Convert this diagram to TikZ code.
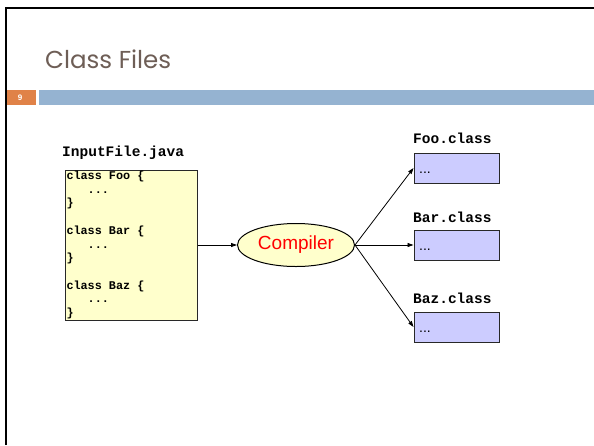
\documentclass[tikz,border=0pt]{standalone}
\usepackage{fontspec}
\setmainfont{Liberation Sans}
\newfontfamily\codefont{Liberation Mono}
\newfontfamily\titlefont{Poppins}
\usetikzlibrary{shapes.geometric,arrows.meta}

\definecolor{titlegray}{RGB}{110,94,86}
\definecolor{slideorange}{RGB}{224,130,72}
\definecolor{slideblue}{RGB}{149,179,209}
\definecolor{srcyellow}{RGB}{255,255,204}
\definecolor{outlilac}{RGB}{204,204,255}
\definecolor{boxline}{RGB}{40,40,40}

% one monospace character cell of blank space
\newcommand\mcell{\phantom{x}}

\tikzset{
  srcbox/.style={draw=boxline, line width=1pt, fill=srcyellow, minimum width=132pt,
    minimum height=150pt, inner xsep=1.5pt, inner ysep=0pt, text width=129pt, align=left,
    font=\codefont\bfseries\fontsize{11.8}{13.7}\selectfont},
  compiler/.style={ellipse, draw=black, line width=1pt, fill=srcyellow, minimum width=117pt,
    minimum height=43pt, inner sep=0pt, text=red, font=\fontsize{19}{22}\selectfont},
  outbox/.style={draw=boxline, line width=1pt, fill=outlilac, minimum width=85pt,
    minimum height=30pt, inner sep=0pt},
  filelabel/.style={anchor=west, inner sep=0pt, font=\codefont\bfseries\fontsize{14.5}{16}\selectfont},
  dots/.style={anchor=base west, inner sep=0pt, font=\fontsize{14}{16}\selectfont},
  flow/.style={line width=0.8pt, -{Triangle[length=6pt,width=4pt]}},
}

\begin{document}
\begin{tikzpicture}[x=1pt,y=-1pt]
\useasboundingbox (0,0) rectangle (594,445);
\fill[white] (0,0) rectangle (594,445);

% slide frame
\draw[line width=2pt, black] (6,445) -- (6,8) -- (594,8);

% title and header bar
\node[anchor=base west, inner sep=0pt, text=titlegray, font=\titlefont\fontsize{24.5}{28}\selectfont]
  (title) at (45,68) {Class Files};
\fill[slideorange] (7,90) rectangle (36,105);
\fill[slideblue] (39,90) rectangle (594,105);
\node[text=white, inner sep=0pt, font=\bfseries\fontsize{8}{9}\selectfont] (pagenum) at (20,97.5) {9};

% source file
\node[filelabel] (srclabel) at (62,153) {InputFile.java};
\node[srcbox] (src) at (131,245) {class\mcell Foo\mcell\{\\
\mcell\mcell\mcell...\\
\}\\
\mbox{}\\
class\mcell Bar\mcell\{\\
\mcell\mcell\mcell...\\
\}\\
\mbox{}\\
class\mcell Baz\mcell\{\\
\mcell\mcell\mcell...\\
\}};

% compiler
\node[compiler] (comp) at (296,245) {Compiler};

% class files
\node[outbox] (foo) at (456.5,168) {};
\node[outbox] (bar) at (456.5,245) {};
\node[outbox] (baz) at (456.5,327) {};
\node[filelabel] (foolabel) at (413,138) {Foo.class};
\node[filelabel] (barlabel) at (413,217) {Bar.class};
\node[filelabel] (bazlabel) at (413,298) {Baz.class};
\node[dots] (foodots) at (419,173) {...};
\node[dots] (bardots) at (419,250) {...};
\node[dots] (bazdots) at (419,332) {...};

% connectors
\draw[flow] (src.east) -- (comp.west);
\draw[flow] (comp.east) -- (foo.west);
\draw[flow] (comp.east) -- (bar.west);
\draw[flow] (comp.east) -- (baz.west);
\end{tikzpicture}
\end{document}
